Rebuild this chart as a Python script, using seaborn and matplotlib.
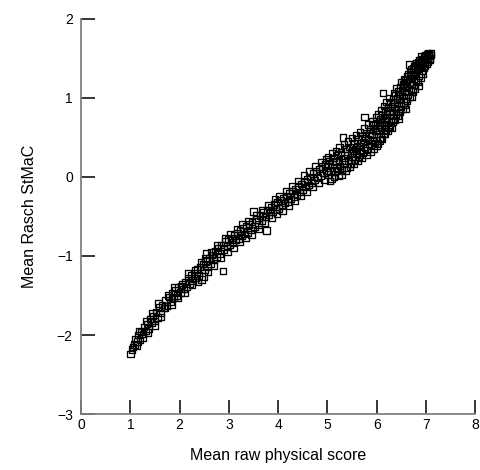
import matplotlib
matplotlib.use("Agg")
import matplotlib.pyplot as plt
import seaborn as sns
import pandas as pd

# Data
raw_score = [
    1.00, 1.03, 1.08, 1.10, 1.14, 1.17, 1.20, 1.22, 1.26, 1.28, 1.31, 1.34, 1.37, 1.40, 1.43, 1.46,
    1.49, 1.52, 1.55, 1.58, 1.61, 1.64, 1.68, 1.71, 1.74, 1.78, 1.81, 1.85, 1.88, 1.92, 1.95, 1.98,
    2.02, 2.05, 2.08, 2.11, 2.14, 2.17, 2.20, 2.23, 2.26, 2.29, 2.32, 2.35, 2.38, 2.41, 2.44, 2.47,
    2.50, 2.53, 2.55, 2.57, 2.60, 2.63, 2.66, 2.69, 2.72, 2.75, 2.78, 2.81, 2.84, 2.88, 2.90, 2.93,
    2.96, 2.99,
    3.02, 3.05, 3.08, 3.11, 3.14, 3.17, 3.20, 3.23, 3.26, 3.29, 3.32, 3.35, 3.38, 3.41, 3.44, 3.47,
    3.50, 3.52, 3.56, 3.60, 3.63, 3.67, 3.70, 3.74, 3.76, 3.78, 3.81, 3.85, 3.88, 3.92, 3.96, 3.99,
    4.02, 4.05, 4.08, 4.11, 4.14, 4.17, 4.20, 4.23, 4.26, 4.29, 4.32, 4.35, 4.38, 4.41, 4.44, 4.47,
    4.50, 4.53, 4.56, 4.59, 4.62, 4.65, 4.68, 4.71, 4.74, 4.77, 4.80, 4.83, 4.86, 4.89, 4.92, 4.95,
    4.98,
    5.00, 5.02, 5.04, 5.06, 5.08, 5.10, 5.12, 5.14, 5.16, 5.18, 5.20, 5.22, 5.24, 5.26, 5.28, 5.30,
    5.32, 5.33, 5.35, 5.37, 5.39, 5.41, 5.43, 5.45, 5.47, 5.49, 5.51, 5.53, 5.55, 5.57, 5.59, 5.61,
    5.63, 5.65, 5.67, 5.69, 5.71, 5.73, 5.75, 5.76, 5.78, 5.80, 5.82, 5.84, 5.86, 5.88, 5.90, 5.92,
    5.94, 5.96, 5.98,
    6.00, 6.02, 6.03, 6.05, 6.07, 6.08, 6.10, 6.12, 6.13, 6.14, 6.16, 6.18, 6.19, 6.21, 6.23, 6.24,
    6.26, 6.28, 6.29, 6.31, 6.33, 6.34, 6.36, 6.38, 6.39, 6.41, 6.43, 6.44, 6.46, 6.48, 6.49, 6.51,
    6.53, 6.54, 6.56, 6.58, 6.59, 6.61, 6.63, 6.64, 6.66, 6.67, 6.69, 6.70, 6.72, 6.74, 6.75, 6.77,
    6.79, 6.80, 6.82, 6.84, 6.86, 6.88, 6.90, 6.92, 6.94, 6.96, 6.98, 7.00, 7.02, 7.04, 7.06, 7.08,
    7.10, 6.30, 6.45, 6.60, 6.72, 6.85,
    # second pass of points (wider spread of the band)
    1.05, 1.12, 1.19, 1.25, 1.33, 1.36, 1.45, 1.50, 1.57, 1.62, 1.70, 1.76, 1.83, 1.90, 1.97,
    2.03, 2.10, 2.18, 2.25, 2.31, 2.37, 2.43, 2.48, 2.52, 2.58, 2.64, 2.70, 2.76, 2.83, 2.92, 2.97,
    3.03, 3.09, 3.16, 3.22, 3.28, 3.34, 3.40, 3.46, 3.55, 3.61, 3.68, 3.73, 3.80, 3.87, 3.94, 3.98,
    4.03, 4.09, 4.16, 4.22, 4.28, 4.34, 4.40, 4.46, 4.52, 4.58, 4.64, 4.70, 4.76, 4.82, 4.88, 4.94,
    4.97,
    5.01, 5.05, 5.09, 5.13, 5.17, 5.21, 5.25, 5.29, 5.34, 5.38, 5.42, 5.46, 5.50, 5.54, 5.58, 5.62,
    5.66, 5.70, 5.74, 5.79, 5.83, 5.87, 5.91, 5.95, 5.99,
    6.01, 6.04, 6.06, 6.09, 6.11, 6.15, 6.17, 6.20, 6.22, 6.25, 6.27, 6.32, 6.35, 6.37, 6.40, 6.42,
    6.47, 6.50, 6.52, 6.55, 6.57, 6.62, 6.65, 6.68, 6.71, 6.73, 6.76, 6.78, 6.81, 6.83, 6.87, 6.89,
    6.91, 6.93, 6.95, 6.97, 6.99, 7.01, 7.03, 7.05, 7.07, 7.09,
    # third pass (dense centre of the upper band)
    5.52, 5.60, 5.68, 5.77, 5.85, 5.93, 6.02, 6.06, 6.11, 6.16, 6.21, 6.26, 6.31, 6.36, 6.41, 6.46,
    6.51, 6.56, 6.61, 6.66, 6.70, 6.74, 6.78, 6.82, 6.86, 6.90, 6.94, 6.98, 7.02, 7.06,
]
rasch_stmac = [
    -2.24, -2.18, -2.12, -2.05, -2.08, -2.00, -2.06, -1.96, -1.99, -1.90, -1.95, -1.86, -1.92, -1.80, -1.84, -1.76,
    -1.82, -1.71, -1.78, -1.65, -1.72, -1.62, -1.66, -1.56, -1.63, -1.52, -1.58, -1.47, -1.53, -1.44, -1.50, -1.40,
    -1.46, -1.36, -1.42, -1.33, -1.39, -1.28, -1.35, -1.25, -1.31, -1.22, -1.28, -1.17, -1.25, -1.14, -1.30, -1.10,
    -1.18, -1.07, -0.97, -1.14, -1.03, -1.10, -0.99, -1.05, -0.94, -1.01, -0.90, -0.97, -0.86, -1.19, -0.92, -0.82,
    -0.88, -0.79,
    -0.86, -0.77, -0.83, -0.74, -0.80, -0.71, -0.78, -0.68, -0.74, -0.65, -0.72, -0.62, -0.70, -0.60, -0.67, -0.57,
    -0.44, -0.63, -0.54, -0.60, -0.49, -0.55, -0.45, -0.51, -0.68, -0.42, -0.48, -0.38, -0.44, -0.35, -0.41, -0.32,
    -0.40, -0.30, -0.36, -0.27, -0.33, -0.24, -0.31, -0.21, -0.28, -0.18, -0.25, -0.15, -0.22, -0.12, -0.19, -0.09,
    -0.16, -0.06, -0.13, -0.03, -0.10, 0.00, -0.07, 0.04, -0.04, 0.07, -0.01, 0.10, 0.02, 0.13, 0.05, 0.16,
    0.08,
    0.14, 0.03, 0.20, 0.08, -0.02, 0.16, 0.24, 0.07, 0.19, 0.12, 0.28, 0.02, 0.21, 0.14, 0.31, 0.09,
    0.50, 0.24, 0.18, 0.35, 0.12, 0.28, 0.21, 0.38, 0.17, 0.31, 0.25, 0.42, 0.22, 0.35, 0.29, 0.47,
    0.26, 0.39, 0.33, 0.51, 0.30, 0.44, 0.76, 0.37, 0.55, 0.34, 0.48, 0.42, 0.60, 0.39, 0.53, 0.46,
    0.65, 0.43, 0.58,
    0.50, 0.68, 0.42, 0.60, 0.73, 0.50, 0.64, 0.78, 1.06, 0.55, 0.70, 0.83, 0.60, 0.74, 0.88, 0.64,
    0.79, 0.93, 0.69, 0.84, 0.98, 0.74, 0.89, 1.03, 0.79, 0.94, 1.08, 0.84, 0.99, 1.13, 0.89, 1.04,
    1.17, 0.94, 1.09, 1.22, 0.99, 1.14, 1.27, 1.04, 1.42, 1.19, 1.32, 1.10, 1.25, 1.37, 1.16, 1.30,
    1.41, 1.22, 1.35, 1.45, 1.28, 1.40, 1.49, 1.34, 1.45, 1.52, 1.40, 1.49, 1.55, 1.46, 1.53, 1.50,
    1.56, 0.62, 0.74, 0.86, 1.02, 1.15,
    # second pass of points (wider spread of the band)
    -2.15, -2.13, -1.95, -2.03, -1.82, -1.97, -1.72, -1.88, -1.60, -1.77, -1.66, -1.50, -1.62, -1.40, -1.53,
    -1.38, -1.47, -1.22, -1.37, -1.18, -1.33, -1.08, -1.26, -1.03, -1.20, -0.95, -1.12, -0.87, -1.02, -0.78, -0.95,
    -0.72, -0.90, -0.66, -0.82, -0.60, -0.77, -0.56, -0.73, -0.48, -0.66, -0.42, -0.58, -0.36, -0.52, -0.28, -0.46,
    -0.25, -0.43, -0.18, -0.36, -0.12, -0.30, -0.05, -0.24, 0.02, -0.19, 0.07, -0.13, 0.13, -0.08, 0.19, -0.03,
    0.22,
    0.25, -0.05, 0.30, 0.00, 0.33, 0.08, 0.37, 0.03, 0.41, 0.08, 0.45, 0.13, 0.49, 0.17, 0.53, 0.20,
    0.57, 0.24, 0.61, 0.28, 0.66, 0.32, 0.70, 0.36, 0.75,
    0.40, 0.79, 0.46, 0.84, 0.48, 0.90, 0.54, 0.95, 0.58, 1.00, 0.63, 0.70, 1.06, 0.72, 1.12, 0.78,
    0.82, 1.20, 0.86, 1.24, 0.91, 0.96, 1.30, 1.01, 1.36, 1.08, 1.40, 1.12, 1.44, 1.20, 1.48, 1.26,
    1.52, 1.31, 1.38, 1.46, 1.54, 1.43, 1.50, 1.57, 1.48, 1.54,
    # third pass (dense centre of the upper band)
    0.33, 0.38, 0.43, 0.49, 0.55, 0.60, 0.62, 0.66, 0.70, 0.75, 0.80, 0.84, 0.90, 0.95, 1.00, 1.05,
    1.10, 1.15, 1.20, 1.24, 1.29, 1.33, 1.36, 1.40, 1.43, 1.46, 1.49, 1.51, 1.53, 1.55,
]
x_ticks = [0, 1, 2, 3, 4, 5, 6, 7, 8]
y_ticks = [-3, -2, -1, 0, 1, 2]

df = pd.DataFrame({"raw": raw_score, "rasch": rasch_stmac})

sns.set_style("white")
plt.rcParams["font.family"] = ["Liberation Sans", "DejaVu Sans"]
plt.rcParams["text.color"] = "black"
plt.rcParams["axes.labelcolor"] = "black"

fig = plt.figure(figsize=(4.8, 4.7), dpi=100)
ax = fig.add_axes([0.169, 0.119, 0.821, 0.841])

sns.scatterplot(data=df, x="raw", y="rasch", ax=ax, marker="s", s=22,
                facecolor="none", edgecolor="black", linewidth=0.95)

ax.set_xlim(0, 8)
ax.set_ylim(-3, 2)
ax.set_xticks(x_ticks)
ax.set_yticks(y_ticks)
ax.set_xticklabels([str(t) for t in x_ticks])
ax.set_yticklabels([("\u2212" + str(-t)) if t < 0 else str(t) for t in y_ticks])

for side in ["top", "right"]:
    ax.spines[side].set_visible(False)
for side in ["left", "bottom"]:
    ax.spines[side].set_color("#808080")
    ax.spines[side].set_linewidth(1.3)

ax.tick_params(axis="both", which="major", direction="in", length=10, width=1.1,
               color="black", labelsize=10, labelcolor="black",
               bottom=True, left=True, top=False, right=False)
ax.tick_params(axis="y", pad=6)
ax.tick_params(axis="x", pad=3)

ax.set_xlabel("Mean raw physical score", fontsize=11.5, labelpad=11, color="black")
ax.set_ylabel("Mean Rasch StMaC", fontsize=11.5, labelpad=14, color="black")

fig.savefig("out.png", dpi=100)
